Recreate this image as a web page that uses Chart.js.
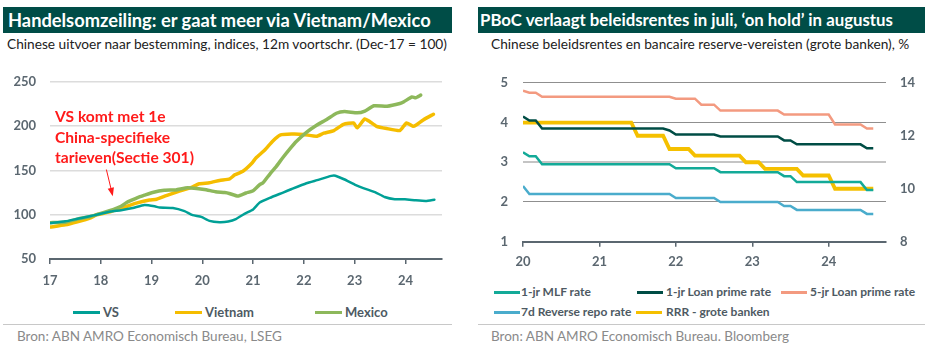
<!DOCTYPE html>
<html>
<head>
<meta charset="utf-8">
<script src="https://cdn.jsdelivr.net/npm/chart.js@4/dist/chart.umd.min.js"></script>
<style>
  html, body { margin:0; padding:0; background:#fff; }
  body { width:936px; height:353px; position:relative; overflow:hidden; font-family: Lato, "Open Sans", sans-serif; }
  .band { position:absolute; top:7px; height:26px; background:#004d47; color:#fff; font-weight:bold; font-size:18.3px; line-height:26px; padding-left:5px; box-sizing:border-box; white-space:nowrap; }
  .sub { position:absolute; top:36px; font-size:13.7px; line-height:16px; color:#222; white-space:nowrap; }
  .sep { position:absolute; top:324px; height:1px; background:#c8c8c8; }
  .src { position:absolute; top:328px; font-size:13.5px; line-height:16px; color:#8a8a8a; white-space:nowrap; }
  .lg { position:absolute; font-weight:bold; color:#4e5a63; white-space:nowrap; }
  .lg i { position:absolute; height:3px; top:50%; margin-top:-1.5px; }
  .ann { position:absolute; left:55px; top:106px; color:#ff1a1a; font-weight:bold; font-size:15.6px; line-height:20.5px; white-space:nowrap; }
  canvas { position:absolute; }
</style>
</head>
<body>
<div class="band" style="left:3px; width:449px;">Handelsomzeiling: er gaat meer via Vietnam/Mexico</div>
<div class="sub" style="left:7px;">Chinese uitvoer naar bestemming, indices, 12m voortschr. (Dec-17 = 100)</div>
<div class="band" style="left:478px; width:447px; padding-left:2px; font-size:16.8px;">PBoC verlaagt beleidsrentes in juli, ‘on hold’ in augustus</div>
<div class="sub" style="left:491px;">Chinese beleidsrentes en bancaire reserve-vereisten (grote banken), %</div>

<canvas id="c1" width="460" height="230" style="left:0; top:60px; width:460px; height:230px;"></canvas>
<canvas id="c2" width="468" height="220" style="left:468px; top:60px; width:468px; height:220px;"></canvas>

<div class="ann">VS komt met 1e<br>China-specifieke<br>tarieven(Sectie 301)</div>

<div id="lg1"></div>
<div id="lg2"></div>

<div class="sep" style="left:3px; width:449px;"></div>
<div class="src" style="left:17px;">Bron: ABN AMRO Economisch Bureau, LSEG</div>
<div class="sep" style="left:478px; width:447px;"></div>
<div class="src" style="left:491px;">Bron: ABN AMRO Economisch Bureau. Bloomberg</div>

<script>
// ---------- Left chart data (year fraction, index Dec-17 = 100) ----------
const vsYears = [17.0,17.3,17.54,17.8,17.92,18.2,18.4,18.63,18.86,19.06,19.16,19.42,19.65,19.81,19.98,20.14,20.34,20.51,20.66,20.83,21.0,21.13,21.33,21.59,21.76,22.05,22.26,22.54,22.62,22.79,23.0,23.17,23.4,23.59,23.79,23.99,24.2,24.4,24.57];
const vsValues = [90.5,92.5,95.4,98.5,100,103.5,105,107.5,111,109.5,108,107.5,104,99.5,97.5,93,91.5,92.3,95,101,106,113.7,119,125,129,135.5,139,143.8,144,140,134,130,125.5,120,117.4,117.4,116.3,115.6,117];

const vietnamYears = [17.0,17.3,17.54,17.8,17.92,18.2,18.44,18.7,18.96,19.1,19.29,19.52,19.81,19.94,20.14,20.34,20.54,20.64,20.8,20.97,21.06,21.23,21.39,21.53,21.76,21.99,22.25,22.39,22.59,22.78,22.98,23.05,23.2,23.3,23.43,23.63,23.89,24.02,24.15,24.22,24.35,24.55];
const vietnamValues = [86,88.5,92,96.5,100,103.5,108,113,116.5,117.5,121.5,126,131.5,135,136,138.7,140.5,145,149,157.7,164.3,173,183.3,189.9,191,190.6,188.5,192,195,202,203.5,198,208.2,205,199.8,197.3,195,203.5,199.8,201.6,207,213.4];

const mexicoYears = [17.0,17.3,17.54,17.8,17.92,18.24,18.4,18.5,18.76,18.86,19.02,19.25,19.48,19.71,20.04,20.26,20.44,20.53,20.7,20.86,21.0,21.13,21.19,21.33,21.45,21.58,21.72,21.85,22.05,22.25,22.45,22.64,22.8,23.05,23.2,23.38,23.64,23.89,23.97,24.13,24.2,24.3];
const mexicoValues = [91,91.5,95,98,100,105.7,109.5,113.5,120,122,125,127.5,128,130.5,128.5,126,125,124,121,124.5,127,134,135.7,145.9,154,164,174,182.6,193,201,207.5,214.5,216.5,215,217,223,222.5,225.5,227.5,233,232,235];

const leftXTicks = [17,18,19,20,21,22,23,24];
const leftSeriesNames = ['VS','Vietnam','Mexico'];

// ---------- Right chart data (monthly, Jan 2020 - Aug 2024) ----------
const rateStart = {year: 2020, month: 1};
const mlf1y = [3.25,3.15,3.15,2.95,2.95,2.95,2.95,2.95,2.95,2.95,2.95,2.95,
  2.95,2.95,2.95,2.95,2.95,2.95,2.95,2.95,2.95,2.95,2.95,2.95,
  2.85,2.85,2.85,2.85,2.85,2.85,2.85,2.75,2.75,2.75,2.75,2.75,
  2.75,2.75,2.75,2.75,2.75,2.65,2.65,2.50,2.50,2.50,2.50,2.50,
  2.50,2.50,2.50,2.50,2.50,2.50,2.30,2.30];
const lpr1y = [4.15,4.05,4.05,3.85,3.85,3.85,3.85,3.85,3.85,3.85,3.85,3.85,
  3.85,3.85,3.85,3.85,3.85,3.85,3.85,3.85,3.85,3.85,3.85,3.80,
  3.70,3.70,3.70,3.70,3.70,3.70,3.70,3.65,3.65,3.65,3.65,3.65,
  3.65,3.65,3.65,3.65,3.65,3.55,3.55,3.45,3.45,3.45,3.45,3.45,
  3.45,3.45,3.45,3.45,3.45,3.45,3.35,3.35];
const lpr5y = [4.80,4.75,4.75,4.65,4.65,4.65,4.65,4.65,4.65,4.65,4.65,4.65,
  4.65,4.65,4.65,4.65,4.65,4.65,4.65,4.65,4.65,4.65,4.65,4.65,
  4.60,4.60,4.60,4.60,4.45,4.45,4.45,4.30,4.30,4.30,4.30,4.30,
  4.30,4.30,4.30,4.30,4.30,4.20,4.20,4.20,4.20,4.20,4.20,4.20,
  4.20,3.95,3.95,3.95,3.95,3.95,3.85,3.85];
const reverseRepo7d = [2.40,2.20,2.20,2.20,2.20,2.20,2.20,2.20,2.20,2.20,2.20,2.20,
  2.20,2.20,2.20,2.20,2.20,2.20,2.20,2.20,2.20,2.20,2.20,2.20,
  2.10,2.10,2.10,2.10,2.10,2.10,2.10,2.00,2.00,2.00,2.00,2.00,
  2.00,2.00,2.00,2.00,2.00,1.90,1.90,1.80,1.80,1.80,1.80,1.80,
  1.80,1.80,1.80,1.80,1.80,1.80,1.70,1.70];
const rrrLarge = [12.5,12.5,12.5,12.5,12.5,12.5,12.5,12.5,12.5,12.5,12.5,12.5,
  12.5,12.5,12.5,12.5,12.5,12.5,12.0,12.0,12.0,12.0,12.0,11.5,
  11.5,11.5,11.5,11.25,11.25,11.25,11.25,11.25,11.25,11.25,11.25,11.0,
  11.0,11.0,10.75,10.75,10.75,10.75,10.75,10.75,10.5,10.5,10.5,10.5,
  10.5,10.0,10.0,10.0,10.0,10.0,10.0,10.0];
const rightXTicks = [20,21,22,23,24];
const rightSeriesNames = ['1-jr MLF rate','1-jr Loan prime rate','5-jr Loan prime rate','7d Reverse repo rate','RRR - grote banken'];

// ---------- Styles ----------
const FONT = 'Lato, "Open Sans", sans-serif';
const AXIS = '#5b6770';
const leftColors = ['#00a096','#f5bd00','#8db85b'];
const rightColors = ['#13aa98','#004d45','#f39a80','#4aaccc','#f5c000'];

function pts(xs, ys){ return xs.map((x,i)=>({x:x, y:ys[i]})); }
function monthX(i){ const y = rateStart.year + Math.floor((rateStart.month-1+i)/12); const m = (rateStart.month-1+i)%12; return (y-2000) + m/12; }
function monthly(vals){ return vals.map((v,i)=>({x:monthX(i), y:v})); }

const tickFont = {family: FONT, size: 13, weight: 'bold'};

// arrow plugin for left chart annotation (anchored to data coordinates)
const arrowPlugin = {
  id: 'arrow',
  afterDatasetsDraw(chart){
    const xs = chart.scales.x, ys = chart.scales.y, ctx = chart.ctx;
    const x0 = xs.getPixelForValue(18.11), y0 = ys.getPixelForValue(151);
    const x1 = xs.getPixelForValue(18.23), y1 = ys.getPixelForValue(122.5);
    ctx.save();
    ctx.strokeStyle = '#ff1a1a'; ctx.fillStyle = '#ff1a1a'; ctx.lineWidth = 1;
    ctx.beginPath(); ctx.moveTo(x0,y0); ctx.lineTo(x1,y1); ctx.stroke();
    const a = Math.atan2(y1-y0, x1-x0), L = 7, W = 3.2;
    ctx.beginPath();
    ctx.moveTo(x1 + 1.5*Math.cos(a), y1 + 1.5*Math.sin(a));
    ctx.lineTo(x1 - L*Math.cos(a) + W*Math.sin(a), y1 - L*Math.sin(a) - W*Math.cos(a));
    ctx.lineTo(x1 - L*Math.cos(a) - W*Math.sin(a), y1 - L*Math.sin(a) + W*Math.cos(a));
    ctx.closePath(); ctx.fill();
    ctx.restore();
  }
};

new Chart(document.getElementById('c1'), {
  type: 'line',
  data: { datasets: [
    { label: leftSeriesNames[0], data: pts(vsYears, vsValues), borderColor: leftColors[0], borderWidth: 2.5, order: 1 },
    { label: leftSeriesNames[1], data: pts(vietnamYears, vietnamValues), borderColor: leftColors[1], borderWidth: 3.5, order: 3 },
    { label: leftSeriesNames[2], data: pts(mexicoYears, mexicoValues), borderColor: leftColors[2], borderWidth: 3.5, order: 2 }
  ]},
  options: {
    responsive: false, animation: false, devicePixelRatio: 1,
    elements: { point: { radius: 0 }, line: { tension: 0.15, borderCapStyle: 'round', borderJoinStyle: 'round', fill: false } },
    layout: { padding: { top: 17, right: 18, left: 0, bottom: 0 } },
    plugins: { legend: { display: false }, tooltip: { enabled: false } },
    scales: {
      x: { type: 'linear', min: 17, max: 24.72,
        afterBuildTicks: s => { s.ticks = leftXTicks.map(v => ({value: v})); },
        afterFit: s => { s.height = 31; },
        grid: { display: true, drawOnChartArea: false, drawTicks: true, tickLength: 5, color: AXIS, lineWidth: 1.5 },
        border: { display: true, color: AXIS, width: 2 },
        ticks: { font: tickFont, color: AXIS, padding: 9, maxRotation: 0, callback: v => String(v) } },
      y: { min: 50, max: 250,
        afterBuildTicks: s => { s.ticks = [50,100,150,200,250].map(v => ({value: v})); },
        afterFit: s => { s.width = 50; },
        grid: { color: c => (c.tick && c.tick.value === 50) ? 'rgba(0,0,0,0)' : '#dcdcdc', lineWidth: 1.5, drawTicks: false },
        border: { display: false },
        ticks: { font: tickFont, color: AXIS, padding: 14 } }
    }
  },
  plugins: [arrowPlugin]
});

new Chart(document.getElementById('c2'), {
  type: 'line',
  data: { datasets: [
    { label: rightSeriesNames[0], data: monthly(mlf1y), borderColor: rightColors[0], borderWidth: 2.5, yAxisID: 'y', order: 1 },
    { label: rightSeriesNames[1], data: monthly(lpr1y), borderColor: rightColors[1], borderWidth: 2.5, yAxisID: 'y', order: 2 },
    { label: rightSeriesNames[2], data: monthly(lpr5y), borderColor: rightColors[2], borderWidth: 2.5, yAxisID: 'y', order: 3 },
    { label: rightSeriesNames[3], data: monthly(reverseRepo7d), borderColor: rightColors[3], borderWidth: 2.5, yAxisID: 'y', order: 4 },
    { label: rightSeriesNames[4], data: monthly(rrrLarge), borderColor: rightColors[4], borderWidth: 3.8, yAxisID: 'y2', order: 5 }
  ]},
  options: {
    responsive: false, animation: false, devicePixelRatio: 1,
    elements: { point: { radius: 0 }, line: { tension: 0, fill: false } },
    layout: { padding: { top: 10.7, right: 0, left: 0, bottom: 0 } },
    plugins: { legend: { display: false }, tooltip: { enabled: false } },
    scales: {
      x: { type: 'linear', min: 20, max: 24.75,
        afterBuildTicks: s => { s.ticks = rightXTicks.map(v => ({value: v})); },
        afterFit: s => { s.height = 38.3; },
        grid: { display: true, drawOnChartArea: false, drawTicks: true, tickLength: 5, color: AXIS, lineWidth: 1.5 },
        border: { display: true, color: AXIS, width: 2 },
        ticks: { font: tickFont, color: AXIS, padding: 7, maxRotation: 0, callback: v => String(v) } },
      y: { position: 'left', min: 1, max: 5,
        afterBuildTicks: s => { s.ticks = [1,2,3,4,5].map(v => ({value: v})); },
        afterFit: s => { s.width = 55; },
        grid: { color: c => (c.tick && c.tick.value === 1) ? 'rgba(0,0,0,0)' : (c.tick && c.tick.value === 3 ? '#c4c4c4' : '#8f8f8f'),
                lineWidth: c => (c.tick && c.tick.value === 3) ? 2 : 1, drawTicks: false },
        border: { display: false },
        ticks: { font: tickFont, color: AXIS, padding: 15 } },
      y2: { position: 'right', min: 8, max: 14,
        afterBuildTicks: s => { s.ticks = [8,10,12,14].map(v => ({value: v})); },
        afterFit: s => { s.width = 50; },
        grid: { display: false, drawTicks: false },
        border: { display: false },
        ticks: { font: tickFont, color: AXIS, padding: 14 } }
    }
  }
});

// ---------- HTML legends ----------
function legendItem(parent, name, color, lineLeft, lineW, textLeft, cy, fs){
  const d = document.createElement('div');
  d.className = 'lg';
  d.style.left = textLeft + 'px';
  d.style.top = (cy - 8) + 'px';
  d.style.height = '16px'; d.style.lineHeight = '16px';
  d.style.fontSize = fs + 'px';
  d.textContent = name;
  const i = document.createElement('i');
  i.style.background = color;
  i.style.left = (lineLeft - textLeft) + 'px';
  i.style.width = lineW + 'px';
  d.appendChild(i);
  document.getElementById(parent).appendChild(d);
}
const leftLegendPos = [[73,103],[175,205],[315,345]];
leftSeriesNames.forEach((n,k) => legendItem('lg1', n, leftColors[k], leftLegendPos[k][0], 27, leftLegendPos[k][1], 312, 13));
const rightLegendPos = [[494,521,292],[637,666,292],[781,810,292],[494,521,312],[636,666,312]];
rightSeriesNames.forEach((n,k) => legendItem('lg2', n, rightColors[k], rightLegendPos[k][0], 26, rightLegendPos[k][1], rightLegendPos[k][2], 12));
</script>
</body>
</html>
